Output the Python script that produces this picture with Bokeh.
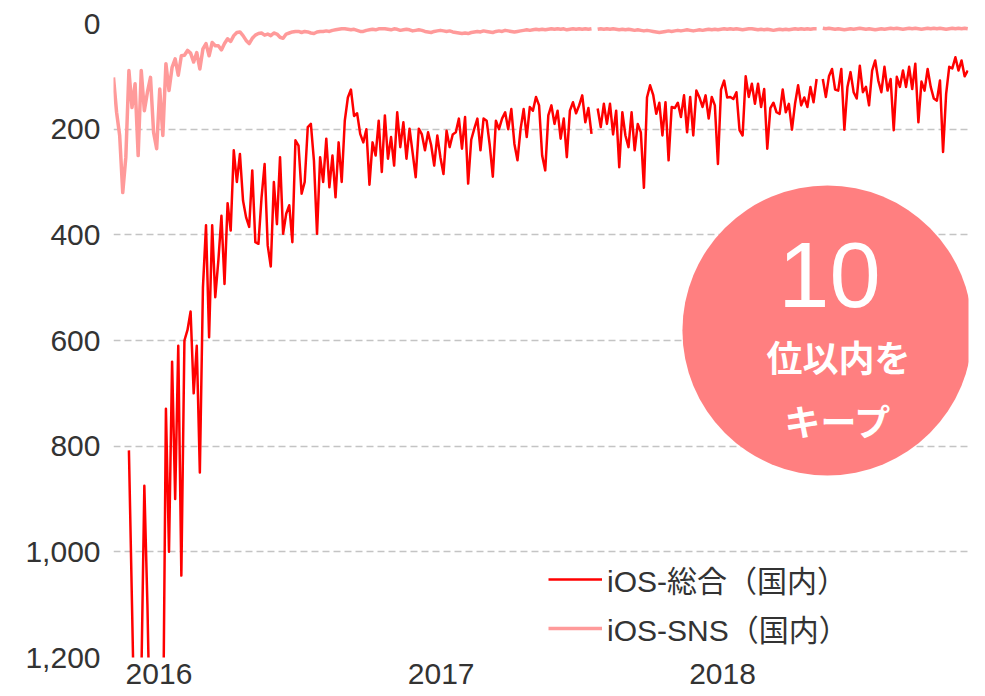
import pandas as pd
import numpy as np
from bokeh.plotting import figure
from bokeh.models import (Range1d, FixedTicker, NumeralTickFormatter, DatetimeTickFormatter,
                          Legend, LegendItem, GlobalInlineStyleSheet, ColumnDataSource)
from bokeh.core.properties import value
from bokeh.embed import file_html
from bokeh.resources import INLINE

nan = float("nan")

# ---------------- data (one value every 4 days) ----------------
START_DATE = "2015-11-03"
STEP = "4D"
X_START = "2015-11-03"
X_END = "2018-11-16"

RANK_TOTAL = [
    nan, nan, nan, nan, nan, 808, 1100, 1400, 1400, 1250,
    875, 1100, 1400, 1400, 1400, 1400, 1400, 729, 1000, 640,
    900, 610, 1045, 600, 580, 545, 700, 610, 850, 500,
    382, 594, 382, 518, 449, 364, 493, 340, 392, 240,
    300, 247, 335, 367, 385, 278, 414, 417, 330, 266,
    420, 460, 300, 380, 253, 398, 360, 344, 414, 221,
    231, 322, 300, 196, 190, 260, 398, 253, 300, 218,
    310, 250, 329, 225, 300, 184, 140, 125, 175, 170,
    209, 225, 200, 305, 225, 250, 184, 281, 174, 256,
    215, 269, 168, 234, 187, 256, 199, 245, 291, 199,
    210, 240, 206, 230, 269, 212, 253, 285, 203, 234,
    210, 206, 180, 237, 177, 303, 220, 199, 180, 240,
    180, 184, 230, 290, 184, 200, 180, 168, 200, 162,
    228, 259, 200, 162, 215, 158, 165, 139, 155, 250,
    278, 174, 155, 190, 165, 218, 180, 253, 165, 149,
    170, 155, 136, 187, 160, 209, nan, 161, 196, 152,
    190, 152, 210, 165, 272, 168, 212, 234, 168, 240,
    190, 206, 311, 140, 117, 135, 171, 150, 212, 149,
    259, 158, 160, 150, 177, 136, 206, 139, 212, 127,
    140, 158, 136, 180, 139, 155, 266, 125, 108, 140,
    139, 143, 130, 202, 212, 100, 139, 114, 152, 114,
    158, 124, 237, 160, 150, 168, 171, 125, 168, 152,
    201, 152, 117, 155, 140, 158, 120, 149, 105, nan,
    105, 139, 100, 86, 125, 127, 86, 201, 120, 92,
    130, 142, 80, 130, 120, 155, 89, 70, 108, 130,
    82, 127, 105, 202, 101, 120, 89, 120, 82, 124,
    76, 187, 110, 127, 86, 120, 142, 146, 108, 243,
    133, 82, 85, 64, 89, 70, 100, 89,
]

RANK_SNS = [
    102, 168, 212, 320, 253, 89, 159, 114, 250, 89,
    165, 130, 102, 206, 237, 124, 212, 76, 127, 83,
    67, 98, 61, 60, 51, 56, 73, 55, 86, 48,
    38, 61, 36, 42, 42, 50, 38, 29, 34, 23,
    17, 16, 23, 32, 38, 28, 22, 19, 18, 22,
    20, 23, 18, 20, 26, 28, 20, 18, 16, 15,
    15, 17, 15, 16, 18, 19, 16, 15, 15, 14,
    15, 13, 12, 11, 10, 10, 11, 12, 11, 13,
    15, 15, 13, 12, 11, 12, 10, 10, 10, 11,
    12, 10, 11, 13, 12, 11, 12, 14, 13, 12,
    13, 15, 16, 17, 15, 14, 13, 14, 15, 14,
    16, 17, 18, 19, 18, 19, 17, 16, 15, 16,
    14, 15, 16, 17, 15, 14, 15, 13, 14, 15,
    16, 15, 14, 13, 12, 13, 12, 11, 12, 11,
    12, 11, 10, 11, 10, 11, 10, 12, 11, 10,
    11, 10, 11, 10, 11, 10, nan, 11, 10, 11,
    10, 11, 10, 11, 12, 11, 12, 11, 12, 13,
    12, 13, 14, 13, 14, 15, 16, 17, 16, 15,
    14, 15, 14, 13, 14, 13, 12, 13, 14, 13,
    12, 13, 12, 11, 12, 11, 12, 11, 10, 11,
    10, 11, 10, 11, 12, 11, 10, 10, 11, 12,
    11, 12, 11, 12, 13, 12, 11, 12, 11, 12,
    11, 10, 11, 10, 11, 10, 11, 10, 10, nan,
    9, 10, 9, 10, 11, 10, 11, 12, 11, 10,
    11, 10, 9, 10, 11, 10, 11, 12, 11, 10,
    11, 10, 9, 10, 9, 10, 11, 10, 9, 10,
    9, 10, 11, 10, 9, 10, 9, 10, 9, 10,
    11, 10, 9, 10, 9, 10, 9, 10,
]

SERIES_LABELS = ["iOS-総合（国内）", "iOS-SNS（国内）"]
SERIES_COLORS = ["#ff0000", "#ff9a9a"]
YEAR_TICKS = [2016, 2017, 2018]
RANK_TICKS = [0, 200, 400, 600, 800, 1000, 1200]

BADGE_DATE = "2018-05-17"
BADGE_RANK = 581
BADGE_NUMBER = "10"
BADGE_LINES = ["位以内を", "キープ"]

# ---------------- figure ----------------
FONT = "Liberation Sans, 'Noto Sans CJK JP', sans-serif"
TEXT_COLOR = "#333333"

p = figure(
    width=977, height=696,
    x_axis_type="datetime",
    x_range=Range1d(pd.Timestamp(X_START), pd.Timestamp(X_END)),
    y_range=Range1d(RANK_TICKS[-1], RANK_TICKS[0]),
    output_backend="svg", toolbar_location=None,
    min_border_left=113, min_border_right=9, min_border_top=23, min_border_bottom=39,
)
p.stylesheets = [GlobalInlineStyleSheet(css="html, body { overflow: hidden; }")]
p.outline_line_color = None
p.background_fill_color = "white"
p.border_fill_color = "white"

p.xgrid.grid_line_color = None
p.ygrid.grid_line_color = "#c4c4c4"
p.ygrid.grid_line_width = 1.6
p.ygrid.grid_line_dash = "7 4"

for ax in (p.xaxis[0], p.yaxis[0]):
    ax.axis_line_color = None
    ax.major_tick_line_color = None
    ax.minor_tick_line_color = None
    ax.major_tick_out = 0
    ax.major_tick_in = 0
    ax.major_label_text_font = FONT
    ax.major_label_text_font_size = "30px"
    ax.major_label_text_color = TEXT_COLOR

p.yaxis.ticker = FixedTicker(ticks=RANK_TICKS)
p.yaxis.formatter = NumeralTickFormatter(format="0,0")
p.yaxis.major_label_standoff = 13

year_ms = [pd.Timestamp(f"{y}-01-01").value / 1e6 for y in YEAR_TICKS]
p.xaxis.ticker = FixedTicker(ticks=year_ms)
p.xaxis.formatter = DatetimeTickFormatter(years="%Y", months="%Y", days="%Y", hours="%Y",
                                          minutes="%Y", seconds="%Y", milliseconds="%Y")
p.xaxis.major_label_standoff = 6

# ---------------- series ----------------
d_total = pd.date_range(START_DATE, periods=len(RANK_TOTAL), freq=STEP)
d_sns = pd.date_range(START_DATE, periods=len(RANK_SNS), freq=STEP)
src_total = ColumnDataSource(dict(x=d_total, y=np.array(RANK_TOTAL, dtype=float)))
src_sns = ColumnDataSource(dict(x=d_sns, y=np.array(RANK_SNS, dtype=float)))

r_sns = p.line("x", "y", source=src_sns, line_color=SERIES_COLORS[1], line_width=3.5,
               line_join="round")
r_total = p.line("x", "y", source=src_total, line_color=SERIES_COLORS[0], line_width=2.5,
                 line_join="round")

# ---------------- badge ----------------
bx = [pd.Timestamp(BADGE_DATE)]
by = [BADGE_RANK]
p.scatter(bx, by, marker="circle", size=290, fill_color="#ff7f80", line_color=None)
p.text(bx, by, text=[BADGE_NUMBER], text_align="center", text_baseline="middle",
       text_color="white", text_font=value("Liberation Sans"), text_font_size="92px",
       x_offset=2, y_offset=-55)
p.text(bx, by, text=[BADGE_LINES[0]], text_align="center", text_baseline="middle",
       text_color="white", text_font=value("Noto Sans CJK JP"), text_font_size="36px",
       text_font_style="bold", x_offset=11, y_offset=26)
p.text(bx, by, text=[BADGE_LINES[1]], text_align="center", text_baseline="middle",
       text_color="white", text_font=value("Noto Sans CJK JP"), text_font_size="36px",
       text_font_style="bold", x_offset=11, y_offset=90)

# ---------------- legend ----------------
legend = Legend(
    items=[LegendItem(label=SERIES_LABELS[0], renderers=[r_total]),
           LegendItem(label=SERIES_LABELS[1], renderers=[r_sns])],
    location=(435, 7),
    orientation="vertical",
    glyph_width=54, glyph_height=36, label_height=36, label_standoff=5,
    spacing=5, padding=0, margin=0,
    border_line_color=None, background_fill_alpha=0,
    label_text_font=FONT, label_text_font_size="30px", label_text_color=TEXT_COLOR,
)
p.add_layout(legend)

open("out.html", "w").write(file_html(p, INLINE))
